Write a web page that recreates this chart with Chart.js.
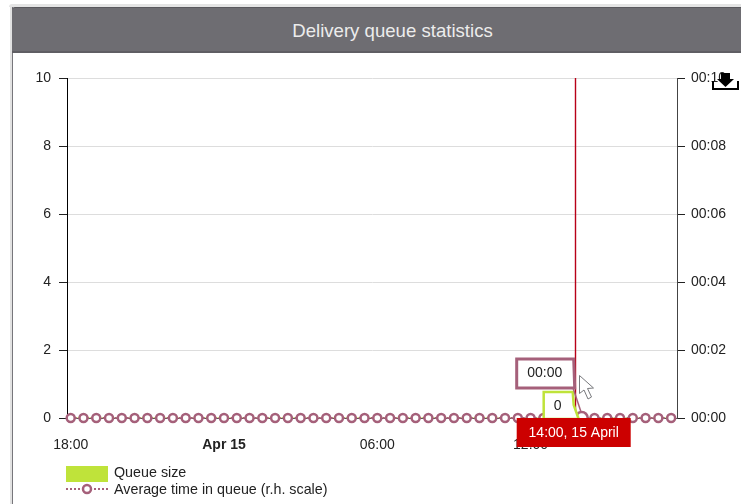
<!DOCTYPE html>
<html>
<head>
<meta charset="utf-8">
<title>Delivery queue statistics</title>
<script src="https://cdn.jsdelivr.net/npm/chart.js@4/dist/chart.umd.js"></script>
<style>
  html, body { margin: 0; padding: 0; background: #fff; }
  body { width: 741px; height: 504px; overflow: hidden; position: relative; font-family: "Liberation Sans", Arial, sans-serif; }
  #edge { position: absolute; left: 9px; top: 4px; right: 0; height: 3px; background: #e4e4e4; border-radius: 3px 0 0 0; }
  #shade { position: absolute; left: 10px; top: 7px; bottom: 0; width: 2px; background: #e2e2e2; }
  #border { position: absolute; left: 12px; top: 7px; bottom: 0; width: 1px; background: #77767b; }
  #head { position: absolute; left: 12px; top: 7px; right: 0; height: 43px; line-height: 46px; background: #6e6d72;
    border-top: 1px solid #59585d; border-bottom: 2px solid #5f5e63; border-radius: 3px 0 0 0; color: #ececec; font-size: 18.6px; text-align: center; padding-left: 32px; box-sizing: content-box; }
  canvas { position: absolute; left: 0; top: 0; }
  .key { position: absolute; left: 114px; font-size: 14.3px; line-height: 14px; color: #222; white-space: nowrap; }
  #swatch { position: absolute; left: 66px; top: 466px; width: 42px; height: 16px; background: #bfe33a; }
  #lineKey { position: absolute; left: 66px; top: 482px; }
</style>
</head>
<body>
<div id="edge"></div><div id="shade"></div><div id="border"></div>
<div id="head">Delivery queue statistics</div>
<canvas id="myChart" width="741" height="504"></canvas>
<div id="swatch"></div>
<div class="key" style="top:465px">Queue size</div>
<svg id="lineKey" width="42" height="14">
  <line x1="0" y1="7" x2="42" y2="7" stroke="#a5607a" stroke-width="2" stroke-dasharray="2 2"/>
  <circle cx="21" cy="7" r="4" fill="#fff" stroke="#a5607a" stroke-width="2.5"/>
</svg>
<div class="key" style="top:482px">Average time in queue (r.h. scale)</div>
<script>
// hours since 18:00 on 14 April
const hours = [0, 0.5, 1, 1.5, 2, 2.5, 3, 3.5, 4, 4.5, 5, 5.5, 6, 6.5, 7, 7.5, 8, 8.5, 9, 9.5, 10, 10.5, 11, 11.5,
  12, 12.5, 13, 13.5, 14, 14.5, 15, 15.5, 16, 16.5, 17, 17.5, 18, 18.5, 19, 19.5, 20, 20.5, 21, 21.5, 22, 22.5, 23, 23.5];
const queueSize = [0, 0, 0, 0, 0, 0, 0, 0, 0, 0, 0, 0, 0, 0, 0, 0, 0, 0, 0, 0, 0, 0, 0, 0,
  0, 0, 0, 0, 0, 0, 0, 0, 0, 0, 0, 0, 0, 0, 0, 0, 0, 0, 0, 0, 0, 0, 0, 0];
const avgTime = [0, 0, 0, 0, 0, 0, 0, 0, 0, 0, 0, 0, 0, 0, 0, 0, 0, 0, 0, 0, 0, 0, 0, 0,
  0, 0, 0, 0, 0, 0, 0, 0, 0, 0, 0, 0, 0, 0, 0, 0, 0, 0, 0, 0, 0, 0, 0, 0];
const xTicks = [0, 6, 12, 18];
const xTickLabels = ["18:00", "Apr 15", "06:00", "12:00"];
const leftTicks = [0, 2, 4, 6, 8, 10];
const rightTickLabels = ["00:00", "00:02", "00:04", "00:06", "00:08", "00:10"];
const hoverIndex = 40;
const crosshairHour = 19.73;

const FONT = '"Liberation Sans", Arial, sans-serif';
const PINK = "#a5607a";
const GREEN = "#bfe33a";

function toPoints(ys) {
  return hours.map((h, i) => ({ x: h, y: ys[i] }));
}

const overlay = {
  id: "overlay",
  afterDraw(chart) {
    const c = chart.ctx;
    const xs = chart.scales.x, ys = chart.scales.y;
    const y0 = ys.getPixelForValue(0);
    const hx = xs.getPixelForValue(hours[hoverIndex]);
    const cx = Math.round(xs.getPixelForValue(crosshairHour));
    c.save();

    // crosshair
    c.strokeStyle = "#b80018";
    c.lineWidth = 1.4;
    c.beginPath();
    c.moveTo(cx + 0.5, ys.getPixelForValue(10));
    c.lineTo(cx + 0.5, y0);
    c.stroke();

    c.font = "14px " + FONT;
    c.textAlign = "center";
    c.textBaseline = "middle";

    // queue size callout
    c.fillStyle = "#fff";
    c.strokeStyle = GREEN;
    c.lineWidth = 2.5;
    c.beginPath();
    c.moveTo(hx - 38, y0 + 1);
    c.lineTo(hx - 38, y0 - 26);
    c.lineTo(hx - 9, y0 - 26);
    c.lineTo(hx - 8, y0 - 13);
    c.lineTo(hx - 3, y0 + 1);
    c.closePath();
    c.fill();
    c.stroke();
    c.fillStyle = "#222";
    c.fillText("0", hx - 24, y0 - 12);

    // average time callout
    c.strokeStyle = PINK;
    c.lineWidth = 1.5;
    c.beginPath();
    c.moveTo(hx - 9, y0 - 31);
    c.lineTo(hx - 1, y0 - 7);
    c.stroke();
    c.fillStyle = "#fff";
    c.lineWidth = 3;
    c.beginPath();
    c.moveTo(hx - 65, y0 - 59);
    c.lineTo(hx - 8, y0 - 59);
    c.lineTo(hx - 7, y0 - 30);
    c.lineTo(hx - 65, y0 - 30);
    c.closePath();
    c.fill();
    c.stroke();
    c.fillStyle = "#222";
    c.fillText("00:00", hx - 37, y0 - 45);

    // time label
    c.fillStyle = "#cc0000";
    c.fillRect(hx - 65, y0, 114, 29);
    c.fillStyle = "#fff";
    c.fillText("14:00, 15 April", hx - 8, y0 + 15);

    // mouse pointer
    c.fillStyle = "#fff";
    c.strokeStyle = "#77787c";
    c.lineWidth = 1;
    c.beginPath();
    c.moveTo(579.5, 375.5);
    c.lineTo(579.5, 393.5);
    c.lineTo(584, 390);
    c.lineTo(588, 399);
    c.lineTo(591.5, 397);
    c.lineTo(587.5, 388.5);
    c.lineTo(593.5, 388);
    c.closePath();
    c.fill();
    c.stroke();

    // download icon
    c.fillStyle = "#000";
    c.fillRect(712, 81, 2, 9);
    c.fillRect(737, 81, 2, 9);
    c.fillRect(712, 88, 27, 2);
    c.beginPath();
    c.moveTo(721, 73);
    c.lineTo(730, 73);
    c.lineTo(730, 79);
    c.lineTo(734, 79);
    c.lineTo(725.5, 87);
    c.lineTo(717, 79);
    c.lineTo(721, 79);
    c.closePath();
    c.fill();

    c.restore();
  }
};

new Chart(document.getElementById("myChart"), {
  type: "line",
  plugins: [overlay],
  data: {
    datasets: [
      {
        label: "Average time in queue (r.h. scale)",
        yAxisID: "y2",
        order: 1,
        data: toPoints(avgTime),
        borderColor: PINK,
        borderWidth: 2,
        borderDash: [2, 2],
        pointBackgroundColor: "#fff",
        pointBorderColor: PINK,
        pointBorderWidth: 2.5,
        pointRadius: (ctx) => (ctx.dataIndex === hoverIndex ? 6 : 4),
        clip: false,
      },
      {
        label: "Queue size",
        yAxisID: "y",
        order: 2,
        data: toPoints(queueSize),
        borderColor: GREEN,
        backgroundColor: GREEN,
        borderWidth: 1,
        fill: "origin",
        pointRadius: 0,
      },
    ],
  },
  options: {
    responsive: false,
    animation: false,
    devicePixelRatio: 1,
    events: [],
    layout: { padding: { top: 78, bottom: 0, left: 0, right: 0 } },
    plugins: { legend: { display: false }, tooltip: { enabled: false } },
    scales: {
      x: {
        type: "linear",
        min: -0.145,
        max: 23.73,
        afterBuildTicks: (axis) => { axis.ticks = xTicks.map((v) => ({ value: v })); },
        afterFit: (axis) => { axis.height = 86; },
        border: { color: "#555", width: 1 },
        grid: { drawOnChartArea: false, tickLength: 3, tickColor: PINK },
        ticks: {
          maxRotation: 0,
          autoSkip: false,
          padding: 16,
          color: "#222",
          font: (ctx) => ({ family: FONT, size: 14, weight: ctx.index === 1 ? "bold" : "normal" }),
          callback: (v, i) => xTickLabels[i],
        },
      },
      y: {
        position: "left",
        min: 0,
        max: 10,
        afterBuildTicks: (axis) => { axis.ticks = leftTicks.map((v) => ({ value: v })); },
        afterFit: (axis) => { axis.width = 67; },
        border: { color: "#000", width: 1 },
        grid: { color: "#dddddd", tickColor: "#222", tickLength: 8 },
        ticks: { padding: 8, color: "#222", font: { family: FONT, size: 14 } },
      },
      y2: {
        position: "right",
        min: 0,
        max: 10,
        afterBuildTicks: (axis) => { axis.ticks = leftTicks.map((v) => ({ value: v })); },
        afterFit: (axis) => { axis.width = 64; },
        border: { color: "#444", width: 1 },
        grid: { drawOnChartArea: false, tickColor: "#222", tickLength: 8 },
        ticks: {
          padding: 6,
          color: "#222",
          font: { family: FONT, size: 14 },
          callback: (v, i) => rightTickLabels[i],
        },
      },
    },
  },
});
</script>
</body>
</html>
